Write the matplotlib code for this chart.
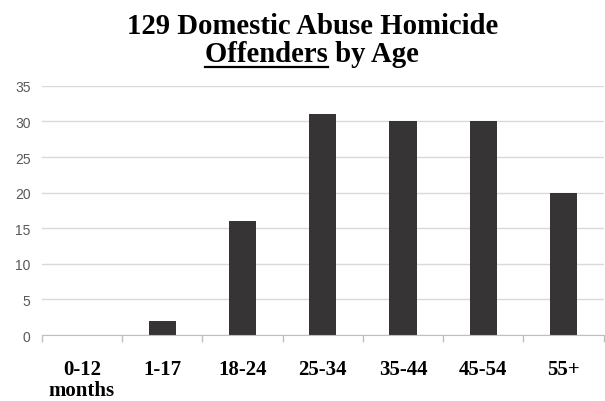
import matplotlib
matplotlib.use('Agg')
import matplotlib.pyplot as plt
from matplotlib.lines import Line2D
from matplotlib.font_manager import FontProperties
import numpy as np

# offenders per age group
ages = ['0-12\nmonths', '1-17', '18-24', '25-34', '35-44', '45-54', '55+']
counts = [0, 2, 16, 31, 30, 30, 20]
yticks = [0, 5, 10, 15, 20, 25, 30, 35]

fig = plt.figure(figsize=(6.05, 4.02), dpi=100)
ax = fig.add_axes([0.069, 0.164, 0.929, 0.62])

x = np.arange(len(ages))
ax.bar(x, counts, width=0.34, color='#363434', zorder=3)

ax.set_xlim(-0.5, len(ages) - 0.5)
ax.set_ylim(0, 35)
ax.set_yticks(yticks)
ax.set_yticklabels([str(v) for v in yticks], fontsize=10, color='#595959',
                   family='Liberation Sans')
ax.tick_params(axis='y', length=0, pad=8)
ax.yaxis.grid(True, color='#d9d9d9', linewidth=1, zorder=0)

xfont = FontProperties(family='Liberation Serif', weight='bold', size=15)
ax.set_xticks(x)
ax.set_xticklabels(ages, fontproperties=xfont, linespacing=1.08)
ax.tick_params(axis='x', length=0, pad=17)
# boundary ticks on the category axis
ax.set_xticks(np.arange(len(ages) + 1) - 0.5, minor=True)
ax.tick_params(axis='x', which='minor', length=5, color='#bfbfbf', width=1)

for s in ['top', 'right', 'left']:
    ax.spines[s].set_visible(False)
ax.spines['bottom'].set_color('#bfbfbf')
ax.spines['bottom'].set_zorder(4)

# title, second line with underlined word
cx = 0.516
y1, y2 = 0.915, 0.845
tfont = FontProperties(family='Liberation Serif', weight='bold', size=20.7)
fig.text(cx, y1, '129 Domestic Abuse Homicide', ha='center', va='baseline',
         fontproperties=tfont)
t2 = fig.text(cx, y2, 'Offenders by Age', ha='center', va='baseline',
              fontproperties=tfont)
r = fig.canvas.get_renderer()
bb = t2.get_window_extent(r)
t3 = fig.text(bb.x0 / fig.bbox.width, y2, 'Offenders', ha='left', va='baseline',
              alpha=0, fontproperties=tfont)
bb3 = t3.get_window_extent(r)
uy = y2 - 0.013
fig.add_artist(Line2D([bb3.x0 / fig.bbox.width, bb3.x1 / fig.bbox.width], [uy, uy],
                      transform=fig.transFigure, color='black', linewidth=1.6))

fig.savefig('out.png', dpi=100)
